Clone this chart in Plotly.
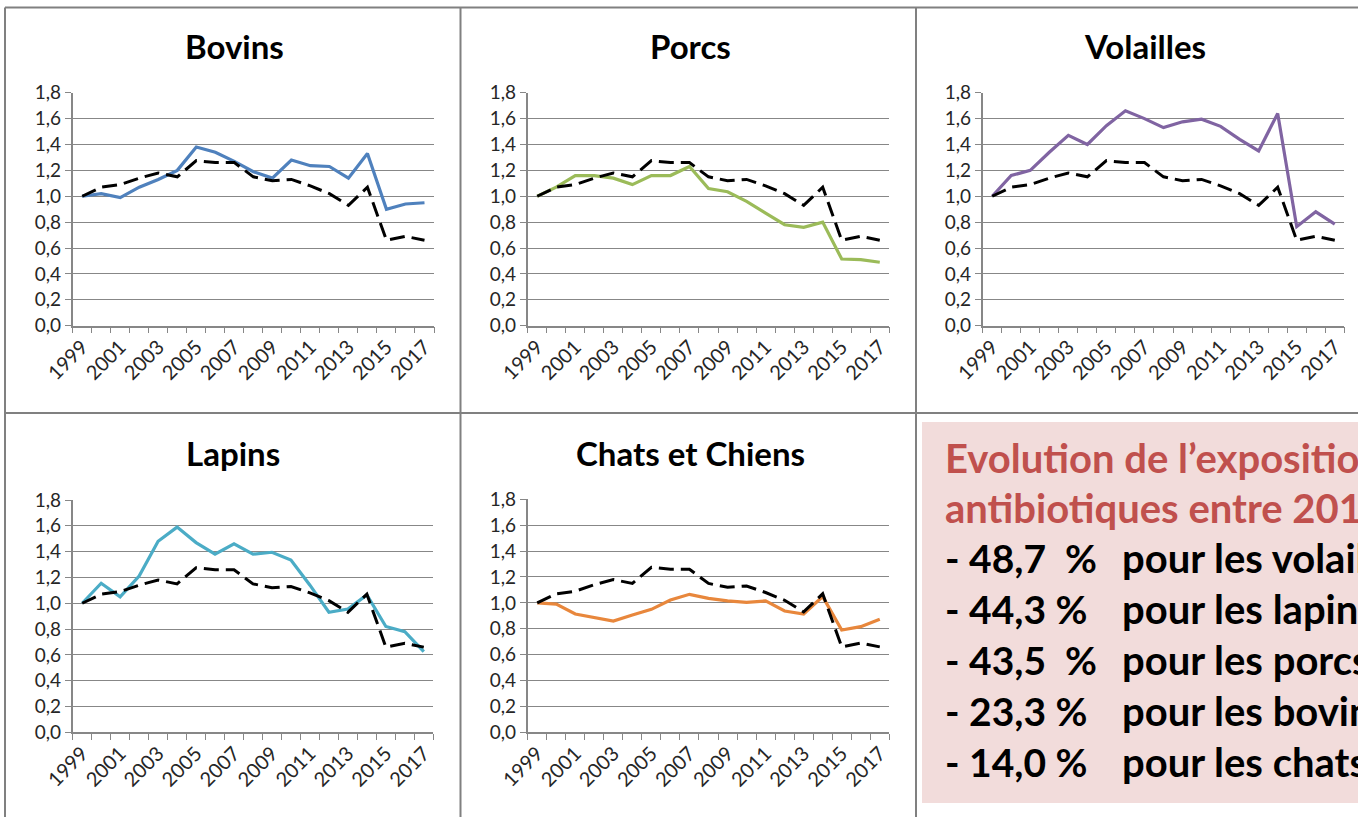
import plotly.graph_objects as go

W, H = 1358, 817

years = list(range(1999, 2018))
tick_years = list(range(1999, 2018, 2))

# total (dashed reference line, same in every panel)
total = [1.00, 1.07, 1.09, 1.14, 1.18, 1.15, 1.275, 1.26, 1.26, 1.15,
         1.12, 1.13, 1.08, 1.02, 0.93, 1.07, 0.66, 0.69, 0.66]

bovins = [1.00, 1.02, 0.99, 1.07, 1.13, 1.20, 1.38, 1.34, 1.27, 1.19,
          1.14, 1.28, 1.236, 1.23, 1.14, 1.33, 0.90, 0.94, 0.95]
porcs = [1.00, 1.07, 1.16, 1.16, 1.14, 1.09, 1.16, 1.16, 1.23, 1.06,
         1.035, 0.96, 0.87, 0.78, 0.76, 0.80, 0.515, 0.51, 0.49]
volailles = [1.00, 1.16, 1.20, 1.34, 1.47, 1.40, 1.545, 1.66, 1.60, 1.53,
             1.575, 1.595, 1.54, 1.44, 1.35, 1.64, 0.765, 0.88, 0.785]
lapins = [1.00, 1.155, 1.05, 1.21, 1.48, 1.59, 1.47, 1.38, 1.46, 1.38,
          1.395, 1.335, 1.14, 0.93, 0.955, 1.065, 0.82, 0.78, 0.625]
chats = [1.00, 0.99, 0.914, 0.888, 0.86, 0.906, 0.95, 1.022, 1.066, 1.035,
         1.015, 1.004, 1.015, 0.937, 0.914, 1.048, 0.79, 0.816, 0.873]

titles = ["Bovins", "Porcs", "Volailles", "Lapins", "Chats et Chiens"]
series = [bovins, porcs, volailles, lapins, chats]
colors = ["#4f81bd", "#9bbb59", "#8064a2", "#4bacc6", "#e8873c"]

box_title = ["Evolution de l’exposition des animaux aux",
             "antibiotiques entre 2011 et 2017"]
box_pct = ["- 48,7  %", "- 44,3 %", "- 43,5  %", "- 23,3 %", "- 14,0 %"]
box_lbl = ["pour les volailles", "pour les lapins", "pour les porcs",
           "pour les bovins", "pour les chats et chiens"]

# plot areas in pixels: (x0, x1, ytop, ybottom)
areas = [(72.7, 434, 92.7, 325.7), (527.7, 889.3, 92.7, 325.7),
         (982.7, 1344.3, 92.7, 325.7), (72.7, 433.3, 500, 732.3),
         (527.7, 889.3, 499.3, 732.3)]
title_pos = [(234, 46), (690, 46), (1145, 46), (233, 453), (690, 453)]

def px(x):
    return x / W

def py(y):
    return 1 - y / H

FONT = "Lato, 'Open Sans', sans-serif"
GRID = "#878787"

fig = go.Figure()
layout = {}
annotations = []
for i, (t, s, c) in enumerate(zip(titles, series, colors)):
    n = "" if i == 0 else str(i + 1)
    fig.add_trace(go.Scatter(x=years, y=s, mode="lines", xaxis="x" + n, yaxis="y" + n,
                             line=dict(color=c, width=3.2), showlegend=False))
    fig.add_trace(go.Scatter(x=years, y=total, mode="lines", xaxis="x" + n, yaxis="y" + n,
                             line=dict(color="black", width=3, dash="15px,7px"),
                             showlegend=False))
    x0, x1, yt, yb = areas[i]
    layout["xaxis" + n] = dict(
        domain=[px(x0), px(x1)], anchor="y" + n, range=[1998.5, 2017.5],
        tickmode="array", tickvals=tick_years, ticktext=[str(v) for v in tick_years],
        tickangle=-45, ticks="", showgrid=False, zeroline=False, automargin=False,
        showline=True, linecolor=GRID, linewidth=1.5,
        tickfont=dict(family=FONT, size=20, color="#262626"),
        minor=dict(tick0=1998.5, dtick=1, ticks="outside", ticklen=6,
                   tickcolor=GRID, showgrid=False),
        fixedrange=True)
    layout["yaxis" + n] = dict(
        domain=[py(yb), py(yt)], anchor="x" + n, range=[0, 1.8], dtick=0.2,
        tickformat=".1f", showgrid=True, gridcolor=GRID, gridwidth=1, automargin=False,
        zeroline=False, showline=True, linecolor=GRID, linewidth=1.5,
        ticks="outside", ticklen=6, tickcolor=GRID,
        tickfont=dict(family=FONT, size=19, color="#262626"),
        fixedrange=True)
    tx, ty = title_pos[i]
    annotations.append(dict(text="<b>" + t + "</b>", x=px(tx), y=py(ty), xref="paper",
                            yref="paper", showarrow=False, xanchor="center", yanchor="middle",
                            font=dict(family=FONT, size=33, color="black")))

# text box
for j, line in enumerate(box_title):
    annotations.append(dict(text="<b>" + line + "</b>", x=px(943), y=py(458 + 50 * j),
                            xref="paper", yref="paper", showarrow=False,
                            xanchor="left", yanchor="middle",
                            font=dict(family=FONT, size=40, color="#c0504d")))
for j, (p, l) in enumerate(zip(box_pct, box_lbl)):
    yy = py(558 + 51 * j)
    annotations.append(dict(text="<b>" + p + "</b>", x=px(943), y=yy, xref="paper",
                            yref="paper", showarrow=False, xanchor="left", yanchor="middle",
                            font=dict(family=FONT, size=39, color="black")))
    annotations.append(dict(text="<b>" + l + "</b>", x=px(1120), y=yy, xref="paper",
                            yref="paper", showarrow=False, xanchor="left", yanchor="middle",
                            font=dict(family=FONT, size=40, color="black")))

shapes = [
    dict(type="rect", xref="paper", yref="paper", x0=px(922), x1=1,
         y0=py(803), y1=py(422), fillcolor="#f2dcdb", line=dict(width=0), layer="below"),
    # panel borders
    dict(type="line", xref="paper", yref="paper", x0=px(5), x1=1, y0=py(7.5), y1=py(7.5),
         line=dict(color="#808080", width=2)),
    dict(type="line", xref="paper", yref="paper", x0=px(5), x1=1, y0=py(413), y1=py(413),
         line=dict(color="#808080", width=2)),
    dict(type="line", xref="paper", yref="paper", x0=px(5), x1=px(5), y0=py(7.5), y1=0,
         line=dict(color="#808080", width=2)),
    dict(type="line", xref="paper", yref="paper", x0=px(460.5), x1=px(460.5), y0=py(7.5), y1=0,
         line=dict(color="#808080", width=2)),
    dict(type="line", xref="paper", yref="paper", x0=px(916), x1=px(916), y0=py(7.5), y1=0,
         line=dict(color="#808080", width=2)),
]

fig.update_layout(width=W, height=H, margin=dict(l=0, r=0, t=0, b=0, autoexpand=False),
                  paper_bgcolor="white", plot_bgcolor="rgba(0,0,0,0)",
                  separators=",.", annotations=annotations, shapes=shapes,
                  font=dict(family=FONT), **layout)

fig.write_html("out.html", config={"displayModeBar": False},
               post_script="document.body.style.margin='0';")
